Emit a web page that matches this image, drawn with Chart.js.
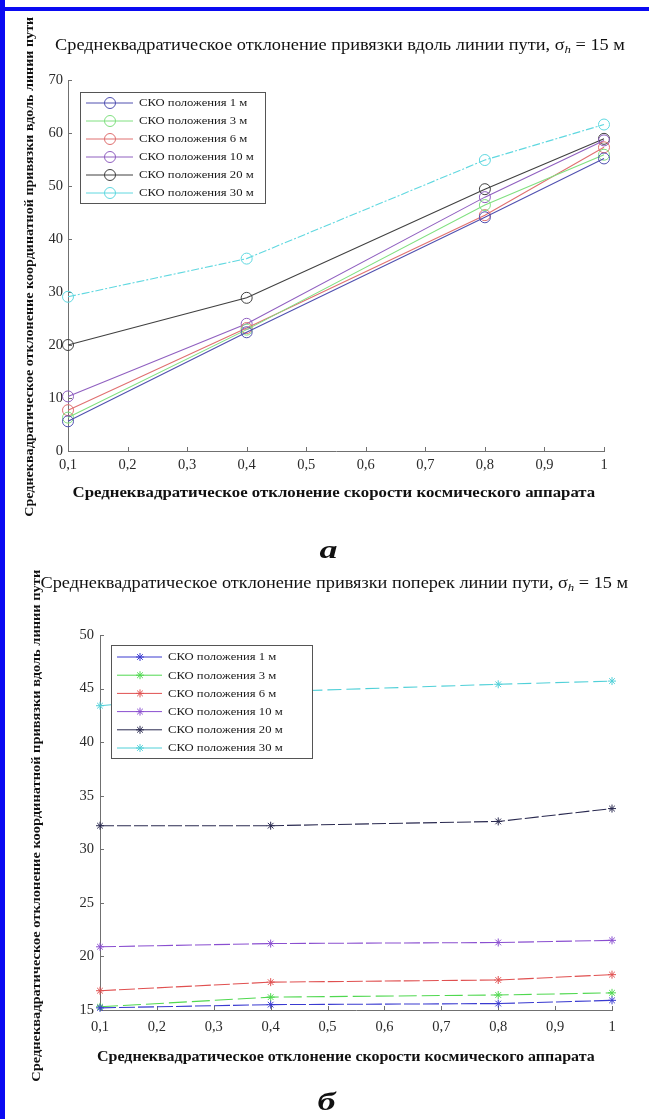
<!DOCTYPE html>
<html><head><meta charset="utf-8">
<script src="https://cdn.jsdelivr.net/npm/chart.js@4.4.1/dist/chart.umd.min.js"></script>
<style>
html,body{margin:0;padding:0;background:#fff;}
#page{position:relative;width:649px;height:1119px;overflow:hidden;background:#fff;font-family:"Liberation Serif","Times New Roman",serif;color:#111;}
.bar{position:absolute;background:#0a0af2;}
canvas{position:absolute;left:0;}
.txt{position:absolute;white-space:nowrap;transform-origin:50% 50%;line-height:1;color:#111;}
sub{font-size:0.7em;vertical-align:-0.3em;font-style:italic;line-height:0;}
</style></head><body>
<div id="page">
 <canvas id="chartA" width="649" height="530" style="top:0"></canvas>
 <canvas id="chartB" width="649" height="589" style="top:530px"></canvas>
 <div class="bar" style="left:0;top:0;width:5px;height:1119px"></div>
 <div class="bar" style="left:0;top:7px;width:649px;height:4px"></div>
</div>
<script>
// ---------- data ----------
const xValues = [0.1, 0.4, 0.8, 1.0];
const xTicks = [0.1, 0.2, 0.3, 0.4, 0.5, 0.6, 0.7, 0.8, 0.9, 1.0];
const xTickLabels = ['0,1', '0,2', '0,3', '0,4', '0,5', '0,6', '0,7', '0,8', '0,9', '1'];
const seriesLabels = ['СКО положения 1 м', 'СКО положения 3 м', 'СКО положения 6 м',
                      'СКО положения 10 м', 'СКО положения 20 м', 'СКО положения 30 м'];

// (a) along track
const yTicksA = [0, 10, 20, 30, 40, 50, 60, 70];
const along1  = [5.6, 22.4, 44.1, 55.2];
const along3  = [6.3, 22.9, 46.4, 55.9];
const along6  = [7.7, 23.2, 44.5, 57.3];
const along10 = [10.3, 24.0, 47.9, 58.6];
const along20 = [20.0, 28.9, 49.4, 58.9];
const along30 = [29.1, 36.3, 54.9, 61.6];

// (б) across track
const yTicksB = [15, 20, 25, 30, 35, 40, 45, 50];
const across1  = [15.2, 15.5, 15.6, 15.9];
const across3  = [15.3, 16.2, 16.4, 16.6];
const across6  = [16.8, 17.6, 17.8, 18.3];
const across10 = [20.9, 21.2, 21.3, 21.5];
const across20 = [32.2, 32.2, 32.6, 33.8];
const across30 = [43.4, 44.7, 45.4, 45.7];

// ---------- styles ----------
const FONT = '"Liberation Serif", "Times New Roman", serif';
const colorsA = ['#5050b0', '#80e080', '#e07070', '#9060c0', '#404040', '#60d8e0'];
const colorsB = ['#3a3ad0', '#50d850', '#e05050', '#8a4fd0', '#2a2a50', '#50d0d8'];
const dashA = [[], [], [], [], [], [8, 2, 2, 2]];
const dashB = [[16, 3], [18, 5], [16, 3], [16, 3], [14, 3], [14, 5]];

const inwardTicks = {
  id: 'inwardTicks',
  beforeDatasetsDraw(chart, args, o) {
    const {ctx, chartArea: a, scales: {x, y}} = chart;
    ctx.save();
    ctx.strokeStyle = o.color; ctx.lineWidth = 1;
    ctx.beginPath();
    x.ticks.forEach(t => { const px = Math.round(x.getPixelForValue(t.value)) + 0.5; ctx.moveTo(px, a.bottom); ctx.lineTo(px, a.bottom - o.len); });
    y.ticks.forEach(t => { const py = Math.round(y.getPixelForValue(t.value)) + 0.5; ctx.moveTo(a.left, py); ctx.lineTo(a.left + o.len, py); });
    ctx.stroke();
    ctx.restore();
  }
};

function drawMarker(ctx, style, r, x, y) {
  ctx.beginPath();
  if (style === 'circle') {
    ctx.arc(x, y, r, 0, Math.PI * 2);
  } else {
    for (let k = 0; k < 4; k++) {
      const ang = k * Math.PI / 4;
      const dx = Math.cos(ang) * r, dy = Math.sin(ang) * r;
      ctx.moveTo(x - dx, y - dy); ctx.lineTo(x + dx, y + dy);
    }
  }
  ctx.stroke();
}

const boxLegend = {
  id: 'boxLegend',
  afterDatasetsDraw(chart, args, o) {
    const {ctx, chartArea: a} = chart;
    const bx = Math.round(a.left + o.dx), by = Math.round(a.top + o.dy);
    ctx.save();
    ctx.fillStyle = '#fff';
    ctx.fillRect(bx, by, o.w, o.h);
    ctx.strokeStyle = '#555'; ctx.lineWidth = 1;
    ctx.strokeRect(bx + 0.5, by + 0.5, o.w, o.h);
    chart.data.datasets.forEach((ds, i) => {
      const yy = by + o.first + i * o.row;
      ctx.strokeStyle = ds.borderColor; ctx.lineWidth = 1; ctx.setLineDash([]);
      ctx.beginPath(); ctx.moveTo(bx + o.l0, yy); ctx.lineTo(bx + o.l1, yy); ctx.stroke();
      drawMarker(ctx, ds.pointStyle, ds.pointRadius, bx + o.m, yy);
      ctx.save();
      ctx.translate(bx + o.tx, yy);
      ctx.scale(o.sx, 1);
      ctx.fillStyle = '#1a1a1a';
      ctx.font = o.font;
      ctx.textBaseline = 'middle';
      ctx.textAlign = 'left';
      ctx.fillText(ds.label, 0, 0.5);
      ctx.restore();
    });
    ctx.restore();
  }
};

function makeDatasets(series, colors, dashes, style, radius) {
  return series.map((arr, i) => ({
    label: seriesLabels[i],
    data: xValues.map((x, j) => ({x: x, y: arr[j]})),
    borderColor: colors[i],
    backgroundColor: 'rgba(0,0,0,0)',
    borderWidth: 1.1,
    borderDash: dashes[i],
    pointStyle: style,
    pointRadius: radius,
    pointBorderWidth: 1,
    pointBackgroundColor: 'rgba(0,0,0,0)',
    pointBorderColor: colors[i],
    tension: 0,
    fill: false,
    clip: false
  }));
}

function makeChart(id, datasets, yMin, yMax, yTicks, area, H, xPad, yPad, legendOpts) {
  const W = 649, xAxisH = 30;
  const axisColor = '#707070';
  return new Chart(document.getElementById(id), {
    type: 'line',
    data: {datasets: datasets},
    plugins: [inwardTicks, boxLegend],
    options: {
      responsive: false, animation: false, devicePixelRatio: 1,
      layout: {padding: {left: 0, top: area.top, right: W - area.right, bottom: H - area.bottom - xAxisH}},
      plugins: {
        legend: {display: false}, tooltip: {enabled: false}, title: {display: false},
        inwardTicks: {color: axisColor, len: 4},
        boxLegend: legendOpts
      },
      scales: {
        x: {
          type: 'linear', min: xTicks[0], max: xTicks[xTicks.length - 1],
          afterBuildTicks: s => { s.ticks = xTicks.map(v => ({value: v})); },
          afterFit: s => { s.height = xAxisH; },
          grid: {display: false, drawTicks: false},
          border: {display: true, color: axisColor, width: 1},
          ticks: {padding: xPad, color: '#2a2a2a', font: {family: FONT, size: 14.5},
                  autoSkip: false, maxRotation: 0,
                  callback: (v, i) => xTickLabels[i]}
        },
        y: {
          type: 'linear', min: yMin, max: yMax,
          afterBuildTicks: s => { s.ticks = yTicks.map(v => ({value: v})); },
          afterFit: s => { s.width = area.left; },
          grid: {display: false, drawTicks: false},
          border: {display: true, color: axisColor, width: 1},
          ticks: {padding: yPad, color: '#2a2a2a', font: {family: FONT, size: 14.5},
                  autoSkip: false, callback: (v, i) => String(yTicks[i])}
        }
      }
    }
  });
}

makeChart('chartA',
  makeDatasets([along1, along3, along6, along10, along20, along30], colorsA, dashA, 'circle', 5.5),
  0, 70, yTicksA, {left: 68, top: 80, right: 604, bottom: 451}, 530, 5, 5,
  {dx: 12, dy: 12, w: 185, h: 111, first: 11, row: 18, l0: 6, l1: 53, m: 30, tx: 59, sx: 1.15,
   font: '11px ' + FONT});

makeChart('chartB',
  makeDatasets([across1, across3, across6, across10, across20, across30], colorsB, dashB, 'star', 4),
  15, 50, yTicksB, {left: 100, top: 105, right: 612, bottom: 480}, 589, 8, 6,
  {dx: 11, dy: 10, w: 201, h: 113, first: 12, row: 18.2, l0: 6, l1: 51, m: 29, tx: 57, sx: 1.15,
   font: '11px ' + FONT});

// ---------- text ----------
const page = document.getElementById('page');
function placeText(html, cx, cy, targetW, font, rot) {
  const el = document.createElement('div');
  el.className = 'txt';
  el.style.font = font;
  el.style.lineHeight = '1';
  el.innerHTML = html;
  page.appendChild(el);
  const w = el.offsetWidth, h = el.offsetHeight;
  const s = targetW ? targetW / w : 1;
  el.style.left = (cx - w / 2) + 'px';
  el.style.top = (cy - h / 2) + 'px';
  el.style.transform = (rot ? 'rotate(' + rot + 'deg) ' : '') + 'scaleX(' + s + ')';
}
const titleA = 'Среднеквадратическое отклонение привязки вдоль линии пути, σ<sub>h</sub> = 15 м';
const titleB = 'Среднеквадратическое отклонение привязки поперек линии пути, σ<sub>h</sub> = 15 м';
const yTitle = 'Среднеквадратическое отклонение координатной привязки вдоль линии пути';
const xTitle = 'Среднеквадратическое отклонение скорости космического аппарата';

placeText(titleA, 340, 45, 570, '16px ' + FONT);
placeText(titleB, 334, 583, 588, '16px ' + FONT);
placeText(yTitle, 28, 267, 500, 'bold 13.5px ' + FONT, -90);
placeText(yTitle, 35, 826, 512, 'bold 13.5px ' + FONT, -90);
placeText(xTitle, 333.5, 493, 523, 'bold 14px ' + FONT);
placeText(xTitle, 346, 1057, 498, 'bold 14px ' + FONT);
placeText('а', 328, 550, 18, 'italic bold 26px ' + FONT);
placeText('б', 326, 1102, 18, 'italic bold 26px ' + FONT);
</script>
</body></html>
